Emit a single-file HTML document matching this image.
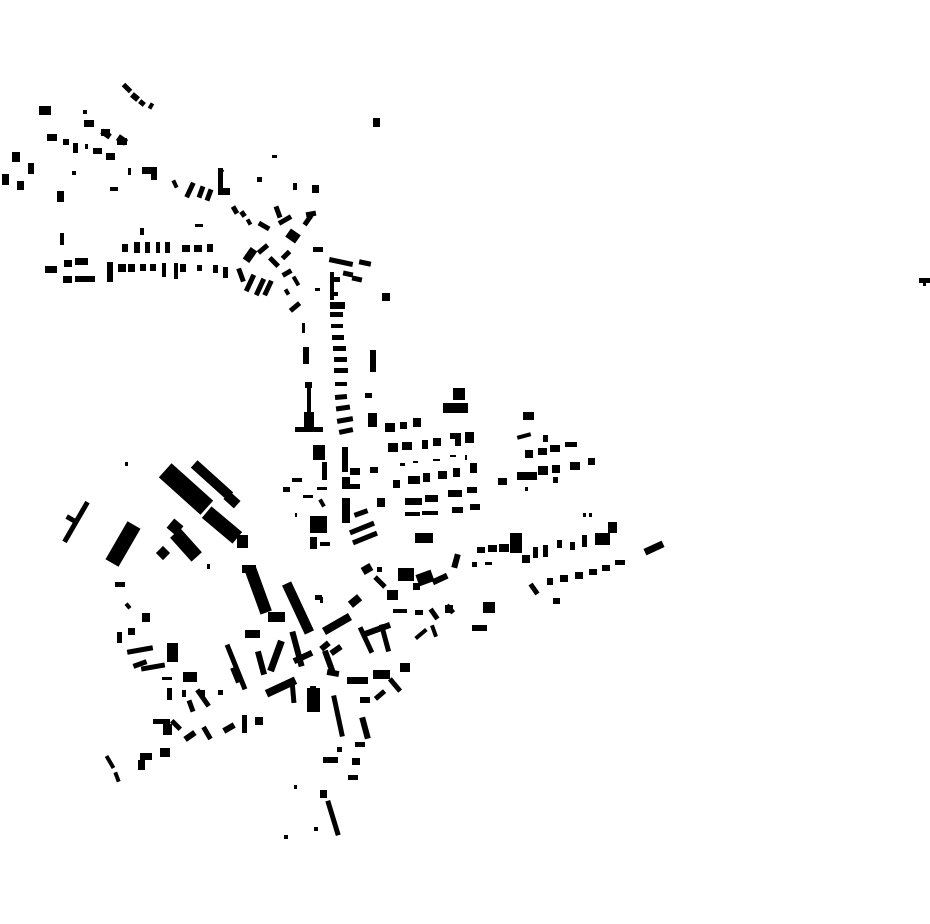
<!DOCTYPE html>
<html><head><meta charset="utf-8"><style>
html,body{margin:0;padding:0;background:#fff;width:930px;height:924px;overflow:hidden}
svg{display:block}
</style></head><body>
<svg width="930" height="924" viewBox="0 0 930 924" xmlns="http://www.w3.org/2000/svg">
<rect width="930" height="924" fill="#fff"/>
<g fill="#000">
<path d="
M39 106H51V115H39Z
M83 110H87V114H83Z M84 120H94V127H84Z M101 129H110V136H101Z M117 138H127V145H117Z
M47 134H57V141H47Z M63 139H69V145H63Z M73 143H78V153H73Z M85 144H88V149H85Z M93 148H102V154H93Z M106 153H115V160H106Z
M12 152H20V162H12Z M28 163H34V174H28Z M2 174H9V185H2Z M17 181H24V190H17Z
M72 171H76V175H72Z M110 187H118V191H110Z M57 191H64V202H57Z M128 168H131V175H128Z M142 167H157V174H142Z M151 172H157V180H151Z
M218 168H223V195H218Z M218 188H230V195H218Z
M293 183H297V190H293Z M312 185H319V193H312Z M373 118H380V127H373Z M272 155H277V158H272Z M257 177H262V182H257Z
M195 224H203V227H195Z M140 228H144V235H140Z M60 233H64V245H60Z
M122 244H128V252H122Z M134 242H140V253H134Z M145 242H150V253H145Z M156 242H160V253H156Z M165 242H170V253H165Z M182 245H190V252H182Z M194 245H202V252H194Z M207 244H213V252H207Z
M45 266H57V273H45Z M64 260H72V267H64Z M75 258H88V265H75Z M63 276H72V283H63Z M75 276H95V282H75Z
M107 262H113V282H107Z M118 264H126V272H118Z M128 264H135V272H128Z M140 264H146V271H140Z M150 264H156V271H150Z M162 263H166V277H162Z M174 263H178V279H174Z M180 264H186V272H180Z M197 265H202V271H197Z M213 265H218V273H213Z M223 267H228V278H223Z
M313 247H323V252H313Z M382 293H390V301H382Z M315 288H320V291H315Z
M330 272H334V300H330Z M332 277H340V282H332Z M331 292H338V296H331Z M330 302H345V309H330Z M330 312H343V317H330Z M331 324H343V328H331Z M332 335H344V340H332Z M333 346H346V351H333Z M334 357H347V362H334Z M334 368H348V373H334Z M335 382H347V386H335Z
M302 323H305V333H302Z M303 347H309V364H303Z M303 347H309V350H303Z
M370 350H376V372H370Z M365 393H372V398H365Z M368 413H377V427H368Z M385 423H395V432H385Z M400 422H407V429H400Z M413 418H421V427H413Z
M305 382H312V388H305Z M307 388H311V413H307Z M304 412H314V428H304Z M295 427H323V432H295Z
M453 388H465V400H453Z M443 403H468V413H443Z
M523 412H534V420H523Z M543 435H548V442H543Z
M388 443H398V452H388Z M402 442H412V450H402Z M422 440H428V449H422Z M433 438H441V446H433Z M450 433H461V439H450Z M455 433H461V446H455Z M465 432H474V443H465Z
M525 450H533V458H525Z M538 448H547V455H538Z M550 445H560V452H550Z M565 442H577V447H565Z
M393 480H400V488H393Z M408 476H420V484H408Z M423 473H430V482H423Z M438 471H447V479H438Z M453 468H460V477H453Z M470 463H477V473H470Z
M400 463H405V466H400Z M413 461H418V463H413Z M433 459H440V461H433Z M450 455H456V457H450Z M465 455H467V460H465Z
M498 478H507V485H498Z M517 472H537V480H517Z M538 466H548V475H538Z M552 465H560V473H552Z M570 462H580V470H570Z M588 458H595V465H588Z M553 477H558V483H553Z M525 487H528V491H525Z
M405 498H422V505H405Z M425 495H438V502H425Z M448 490H462V497H448Z M467 487H477V493H467Z
M405 512H420V516H405Z M422 511H438V515H422Z M452 507H463V513H452Z M470 504H480V510H470Z
M415 533H433V543H415Z
M313 445H325V460H313Z M342 447H348V472H342Z M350 468H360V475H350Z M370 467H378V473H370Z M342 477H350V489H342Z M343 484H360V489H343Z
M322 462H327V480H322Z M292 478H302V482H292Z M283 487H290V492H283Z M317 487H327V490H317Z M303 495H313V498H303Z M377 498H385V507H377Z
M342 498H350V523H342Z M295 513H297V517H295Z M310 516H327V533H310Z M310 537H317V549H310Z M320 542H330V546H320Z
M477 547H485V553H477Z M488 545H497V552H488Z M499 544H509V552H499Z M510 533H522V553H510Z M522 555H530V563H522Z M533 547H538V558H533Z M543 545H548V557H543Z M557 540H562V548H557Z M570 542H575V550H570Z M582 535H587V547H582Z M595 533H610V545H595Z M608 522H617V533H608Z M583 513H586V517H583Z M589 513H592V517H589Z
M472 562H477V567H472Z M485 562H492V565H485Z
M547 578H553V585H547Z M560 575H568V582H560Z M575 572H583V579H575Z M589 569H597V575H589Z M602 565H610V571H602Z M615 560H625V565H615Z M553 598H560V604H553Z
M377 567H382V572H377Z M398 568H414V581H398Z M413 583H420V590H413Z M387 590H398V600H387Z
M483 602H495V613H483Z M472 625H487V631H472Z M445 605H453V613H445Z M393 609H407V613H393Z M415 610H423V615H415Z
M315 595H322V600H315Z M320 597H323V603H320Z
M125 462H128V466H125Z
M237 535H248V548H237Z M207 564H210V569H207Z M242 565H256V573H242Z
M268 612H285V622H268Z M245 630H260V638H245Z
M115 582H125V587H115Z M142 613H150V622H142Z M117 632H122V643H117Z M128 628H135V635H128Z M167 643H178V662H167Z M162 677H172V680H162Z M183 672H197V682H183Z M167 688H172V700H167Z M182 690H186V697H182Z M200 690H205V697H200Z M218 690H223V695H218Z
M307 688H320V712H307Z M310 686H316V690H310Z
M347 677H368V684H347Z M373 670H390V679H373Z M360 697H370V703H360Z M400 663H410V672H400Z
M153 719H170V724H153Z M163 724H172V735H163Z M242 715H247V733H242Z M255 717H263V725H255Z
M160 748H170V757H160Z M140 753H152V760H140Z M138 760H145V770H138Z
M323 757H338V763H323Z M352 758H360V765H352Z M348 775H358V780H348Z M337 747H342V752H337Z M355 742H365V747H355Z
M294 785H297V789H294Z M320 790H327V798H320Z M314 827H318V831H314Z M284 835H288V839H284Z
M919 278H930V283H919Z M923 283H926V286H923Z
"/>
<!-- rotated buildings -->
<g>
<rect x="-5" y="-2.5" width="10" height="5" transform="translate(127,88) rotate(45)"/>
<rect x="-4" y="-3" width="8" height="6" transform="translate(135,97) rotate(40)"/>
<rect x="-3" y="-2.5" width="6" height="5" transform="translate(142,103) rotate(40)"/>
<rect x="-2" y="-3" width="4" height="6" transform="translate(151,106) rotate(30)"/>
<rect x="-5" y="-3" width="10" height="6" transform="translate(106,134) rotate(35)"/>
<rect x="-5" y="-3.5" width="10" height="7" transform="translate(122,140) rotate(35)"/>
<rect x="-4" y="-2" width="8" height="4" transform="translate(175,184) rotate(65)"/>
<rect x="-8" y="-2.5" width="16" height="5" transform="translate(190,190) rotate(-65)"/>
<rect x="-6" y="-2.5" width="12" height="5" transform="translate(201,192) rotate(-70)"/>
<rect x="-6" y="-2.5" width="12" height="5" transform="translate(209,195) rotate(-70)"/>
<rect x="-3" y="-2" width="6" height="4" transform="translate(221,172) rotate(-60)"/>
<rect x="-4" y="-2.5" width="8" height="5" transform="translate(235,210) rotate(60)"/>
<rect x="-3" y="-2.5" width="6" height="5" transform="translate(243,214) rotate(55)"/>
<rect x="-3" y="-2" width="6" height="4" transform="translate(249,222) rotate(60)"/>
<rect x="-6" y="-2.5" width="12" height="5" transform="translate(264,226) rotate(30)"/>
<rect x="-6" y="-2.5" width="12" height="5" transform="translate(278,212) rotate(70)"/>
<rect x="-7" y="-2.5" width="14" height="5" transform="translate(285,220) rotate(-30)"/>
<rect x="-6" y="-5" width="12" height="10" transform="translate(293,236) rotate(35)"/>
<rect x="-6" y="-2.5" width="12" height="5" transform="translate(308,220) rotate(-55)"/>
<rect x="-5" y="-2.5" width="10" height="5" transform="translate(311,214) rotate(-10)"/>
<rect x="-7" y="-4" width="14" height="8" transform="translate(250,255) rotate(-55)"/>
<rect x="-6" y="-2.5" width="12" height="5" transform="translate(263,249) rotate(-40)"/>
<rect x="-6" y="-2.5" width="12" height="5" transform="translate(274,262) rotate(45)"/>
<rect x="-5" y="-2.5" width="10" height="5" transform="translate(286,255) rotate(-45)"/>
<rect x="-5" y="-2.5" width="10" height="5" transform="translate(287,273) rotate(-30)"/>
<rect x="-5" y="-2" width="10" height="4" transform="translate(296,281) rotate(60)"/>
<rect x="-3" y="-2" width="6" height="4" transform="translate(287,292) rotate(60)"/>
<rect x="-6" y="-2.5" width="12" height="5" transform="translate(295,307) rotate(-40)"/>
<rect x="-7" y="-2.5" width="14" height="5" transform="translate(241,275) rotate(70)"/>
<rect x="-9" y="-2.5" width="18" height="5" transform="translate(250,283) rotate(-65)"/>
<rect x="-9" y="-2.5" width="18" height="5" transform="translate(260,287) rotate(-65)"/>
<rect x="-8" y="-2.5" width="16" height="5" transform="translate(268,288) rotate(-65)"/>
<rect x="-12" y="-2.5" width="24" height="5" transform="translate(341,262) rotate(12)"/>
<rect x="-6" y="-2.5" width="12" height="5" transform="translate(365,263) rotate(12)"/>
<rect x="-5" y="-2.5" width="10" height="5" transform="translate(348,274) rotate(12)"/>
<rect x="-5" y="-2.5" width="10" height="5" transform="translate(357,279) rotate(12)"/>
<rect x="-6" y="-2.5" width="12" height="5" transform="translate(341,397) rotate(-5)"/>
<rect x="-7" y="-2.5" width="14" height="5" transform="translate(343,408) rotate(-8)"/>
<rect x="-8" y="-2.5" width="16" height="5" transform="translate(345,420) rotate(-10)"/>
<rect x="-7" y="-2.5" width="14" height="5" transform="translate(346,431) rotate(-12)"/>
<rect x="-7" y="-2" width="14" height="4" transform="translate(524,436) rotate(-15)"/>
<rect x="-7" y="-2.5" width="14" height="5" transform="translate(361,513) rotate(-20)"/>
<rect x="-13" y="-2.5" width="26" height="5" transform="translate(362,528) rotate(-22)"/>
<rect x="-13" y="-2.5" width="26" height="5" transform="translate(365,538) rotate(-22)"/>
<rect x="-4" y="-2" width="8" height="4" transform="translate(322,503) rotate(60)"/>
<rect x="-8" y="-6" width="16" height="12" transform="translate(425,578) rotate(-20)"/>
<rect x="-8" y="-3" width="16" height="6" transform="translate(440,579) rotate(-25)"/>
<rect x="-7" y="-3" width="14" height="6" transform="translate(456,561) rotate(-75)"/>
<rect x="-5" y="-4" width="10" height="8" transform="translate(367,569) rotate(-30)"/>
<rect x="-7" y="-2.5" width="14" height="5" transform="translate(380,582) rotate(45)"/>
<rect x="-10" y="-3.5" width="20" height="7" transform="translate(654,548) rotate(-25)"/>
<rect x="-6" y="-2.5" width="12" height="5" transform="translate(534,589) rotate(55)"/>
<rect x="-6" y="-2" width="12" height="4" transform="translate(434,631) rotate(70)"/>
<rect x="-7" y="-2" width="14" height="4" transform="translate(421,634) rotate(-40)"/>
<rect x="-6" y="-2.5" width="12" height="5" transform="translate(434,614) rotate(55)"/>
<rect x="-5" y="-2.5" width="10" height="5" transform="translate(450,609) rotate(50)"/>
<rect x="-6" y="-4" width="12" height="8" transform="translate(355,601) rotate(-40)"/>
<rect x="-15" y="-4" width="30" height="8" transform="translate(337,624) rotate(-30)"/>
<rect x="-5" y="-3" width="10" height="6" transform="translate(325,646) rotate(-40)"/>
<!-- big west blocks -->
<rect x="-28" y="-9.5" width="56" height="19" transform="translate(186,489) rotate(42)"/>
<rect x="-24" y="-5" width="48" height="10" transform="translate(212,480) rotate(42)"/>
<rect x="-7" y="-5" width="14" height="10" transform="translate(232,500) rotate(42)"/>
<rect x="-23" y="-2.5" width="46" height="5" transform="translate(76,522) rotate(-60)"/>
<rect x="-5" y="-2.5" width="10" height="5" transform="translate(71,519) rotate(30)"/>
<rect x="-22" y="-7.5" width="44" height="15" transform="translate(123,544) rotate(-60)"/>
<rect x="-6" y="-6" width="12" height="12" transform="translate(175,527) rotate(40)"/>
<rect x="-16" y="-7" width="32" height="14" transform="translate(186,545) rotate(48)"/>
<rect x="-5" y="-5" width="10" height="10" transform="translate(163,553) rotate(45)"/>
<rect x="-20" y="-7.5" width="40" height="15" transform="translate(222,525) rotate(40)"/>
<rect x="-24" y="-6" width="48" height="12" transform="translate(258,590) rotate(70)"/>
<rect x="-27" y="-5" width="54" height="10" transform="translate(298,608) rotate(65)"/>
<rect x="-3" y="-2" width="6" height="4" transform="translate(128,606) rotate(50)"/>
<rect x="-13" y="-2.5" width="26" height="5" transform="translate(140,650) rotate(-10)"/>
<rect x="-7" y="-2.5" width="14" height="5" transform="translate(140,664) rotate(-20)"/>
<rect x="-12" y="-2.5" width="24" height="5" transform="translate(153,667) rotate(-10)"/>
<rect x="-7" y="-2" width="14" height="4" transform="translate(172,652) rotate(60)"/>
<rect x="-10" y="-2.5" width="20" height="5" transform="translate(203,698) rotate(55)"/>
<rect x="-6" y="-2.5" width="12" height="5" transform="translate(191,706) rotate(70)"/>
<rect x="-24" y="-2.5" width="48" height="5" transform="translate(236,667) rotate(68)"/>
<rect x="-8" y="-3" width="16" height="6" transform="translate(236,675) rotate(68)"/>
<rect x="-12" y="-3" width="24" height="6" transform="translate(261,663) rotate(75)"/>
<rect x="-16" y="-3.5" width="32" height="7" transform="translate(276,656) rotate(-70)"/>
<rect x="-18" y="-3" width="36" height="6" transform="translate(297,649) rotate(75)"/>
<rect x="-10" y="-3" width="20" height="6" transform="translate(303,657) rotate(-25)"/>
<rect x="-16" y="-4" width="32" height="8" transform="translate(281,687) rotate(-25)"/>
<rect x="-11" y="-2.5" width="22" height="5" transform="translate(293,692) rotate(85)"/>
<rect x="-12" y="-3" width="24" height="6" transform="translate(329,662) rotate(70)"/>
<rect x="-6" y="-3" width="12" height="6" transform="translate(336,650) rotate(-35)"/>
<rect x="-6" y="-3" width="12" height="6" transform="translate(333,673) rotate(10)"/>
<rect x="-15" y="-3" width="30" height="6" transform="translate(376,630) rotate(-20)"/>
<rect x="-14" y="-2.5" width="28" height="5" transform="translate(366,640) rotate(65)"/>
<rect x="-14" y="-2.5" width="28" height="5" transform="translate(385,638) rotate(75)"/>
<rect x="-8" y="-2.5" width="16" height="5" transform="translate(395,685) rotate(50)"/>
<rect x="-6" y="-2.5" width="12" height="5" transform="translate(380,695) rotate(-40)"/>
<rect x="-21" y="-2.5" width="42" height="5" transform="translate(338,716) rotate(78)"/>
<rect x="-11" y="-3" width="22" height="6" transform="translate(365,728) rotate(75)"/>
<rect x="-6" y="-3" width="12" height="6" transform="translate(190,736) rotate(-35)"/>
<rect x="-7" y="-2.5" width="14" height="5" transform="translate(207,733) rotate(60)"/>
<rect x="-6" y="-3" width="12" height="6" transform="translate(229,728) rotate(-30)"/>
<rect x="-7" y="-2" width="14" height="4" transform="translate(110,762) rotate(60)"/>
<rect x="-5" y="-2" width="10" height="4" transform="translate(117,777) rotate(70)"/>
<rect x="-18" y="-2.5" width="36" height="5" transform="translate(333,818) rotate(73)"/>
<rect x="-6" y="-2.5" width="12" height="5" transform="translate(176,725) rotate(45)"/>
</g>
</g>
</svg>
</body></html>
